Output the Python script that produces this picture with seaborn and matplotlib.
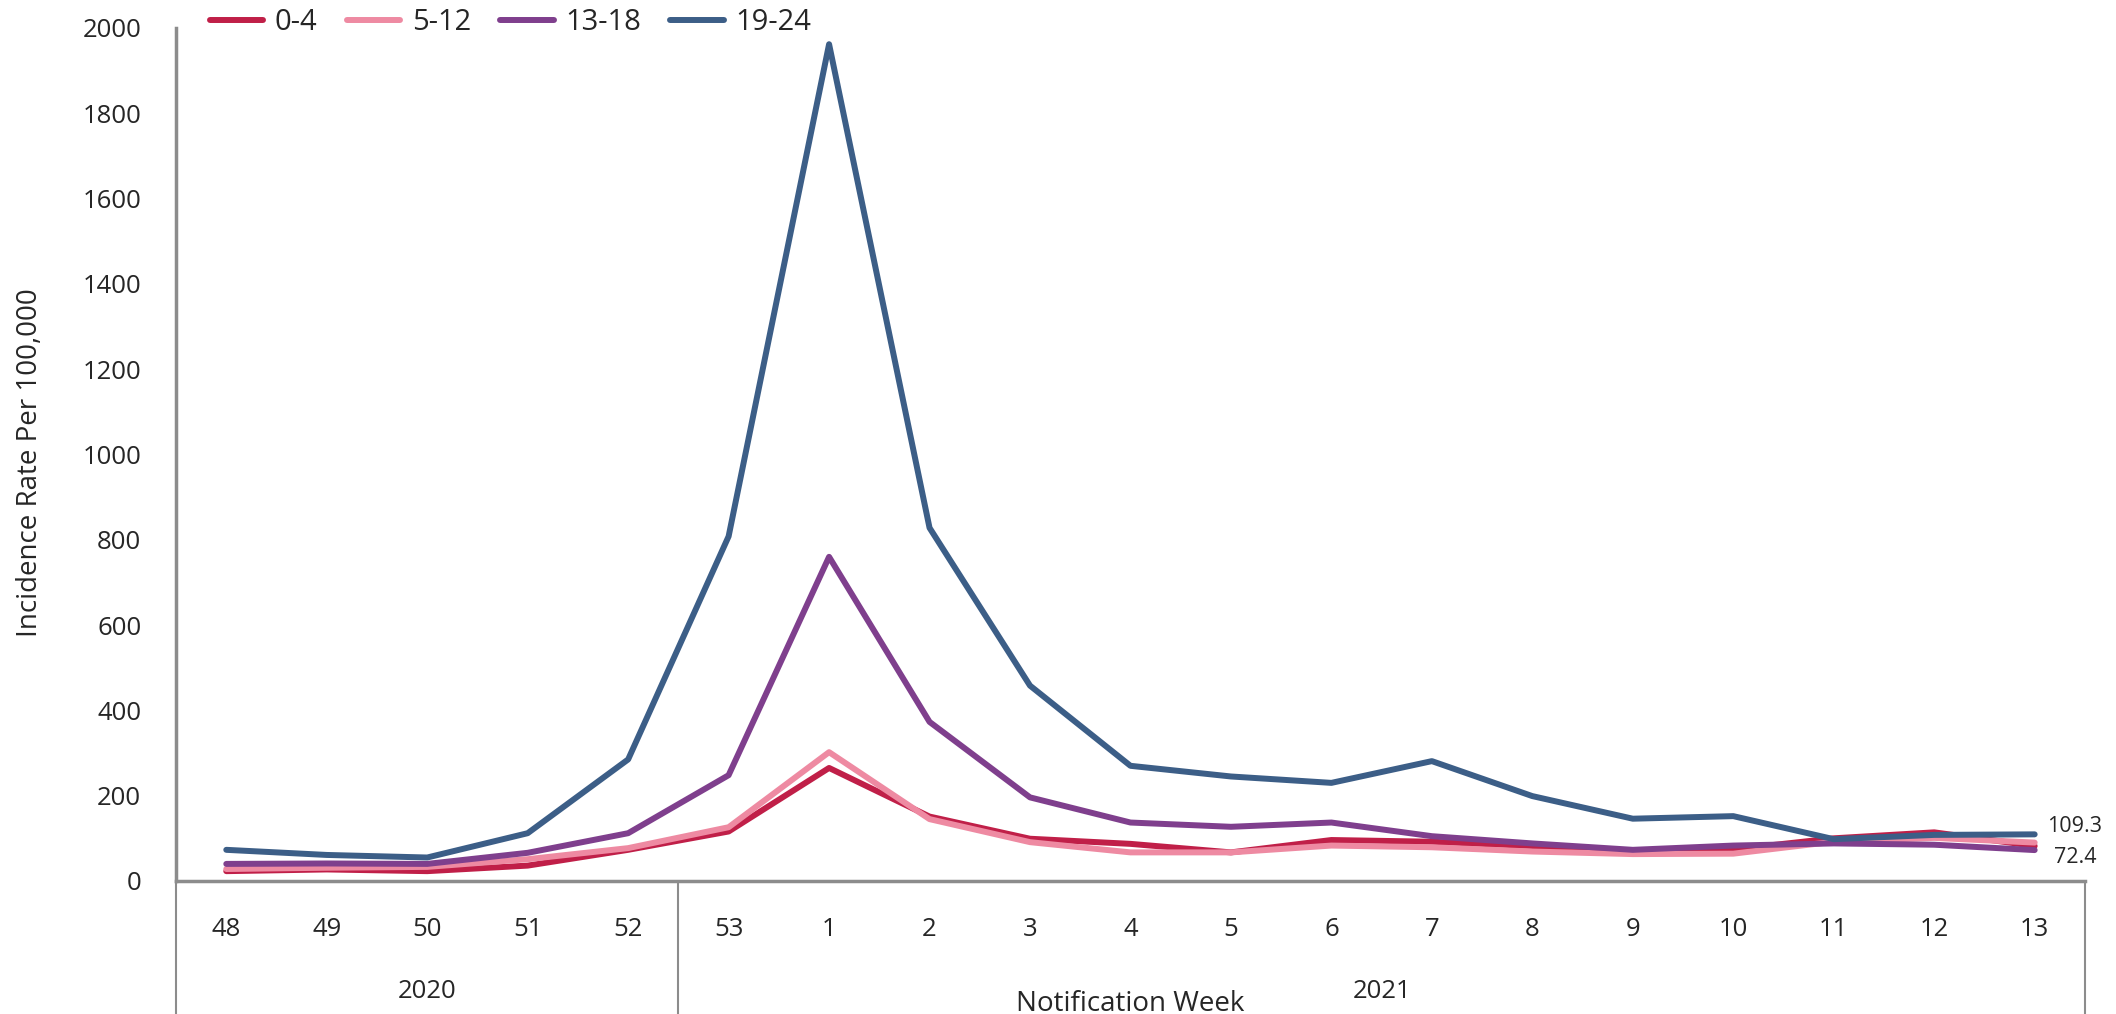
import numpy as np
import pandas as pd
import matplotlib
matplotlib.use("Agg")
import matplotlib.pyplot as plt
import matplotlib.transforms as mtransforms
import seaborn as sns

weeks = ['48', '49', '50', '51', '52', '53', '1', '2', '3', '4', '5', '6', '7', '8', '9', '10', '11', '12', '13']
years = ['2020', '2021']
year_sizes = [5, 14]

age_0_4 = [23, 27, 23, 36, 73, 116, 265, 151, 99, 87, 67, 96, 92, 82, 69, 74, 100, 114, 82]
age_5_12 = [28, 31, 33, 51, 77, 126, 302, 145, 91, 67, 67, 83, 79, 69, 63, 64, 92, 101, 90]
age_13_18 = [40, 41, 40, 66, 112, 248, 760, 373, 196, 137, 127, 137, 105, 88, 73, 83, 88, 85, 72.4]
age_19_24 = [73, 61, 55, 112, 285, 808, 1962, 828, 458, 270, 245, 230, 281, 199, 146, 152, 98, 108, 109.3]

groups = ['0-4', '5-12', '13-18', '19-24']
colors = ['#C01F48', '#EE8AA2', '#7F3F8D', '#3C5E87']

df = pd.DataFrame({
    'pos': np.tile(np.arange(len(weeks)), 4),
    'rate': age_0_4 + age_5_12 + age_13_18 + age_19_24,
    'group': np.repeat(groups, len(weeks)),
})

sns.set_style('white')
plt.rcParams['font.family'] = ['Open Sans', 'DejaVu Sans']
grey = '#8C8C8C'
tick_fs = 18.5

fig = plt.figure(figsize=(21.16, 10.14), dpi=100)
ax = fig.add_axes([0.0832, 0.1312, 0.9021, 0.8412])

sns.lineplot(data=df, x='pos', y='rate', hue='group', palette=colors,
             hue_order=groups, linewidth=4.3, ax=ax, legend=False)

ax.set_xlim(-0.5, len(weeks) - 0.5)
ax.set_ylim(0, 2000)
ax.set_yticks(np.arange(0, 2001, 200))
ax.set_xticks(np.arange(len(weeks)))
ax.set_xticklabels(weeks)
ax.tick_params(axis='y', length=9, width=2, color=grey, pad=16, labelsize=tick_fs)
ax.tick_params(axis='x', length=0, pad=26, labelsize=tick_fs)

for s in ['top', 'right']:
    ax.spines[s].set_visible(False)
for s in ['left', 'bottom']:
    ax.spines[s].set_color(grey)
    ax.spines[s].set_linewidth(2.5)

# year group separators and labels below the axis
trans = mtransforms.blended_transform_factory(ax.transData, ax.transAxes)
edges = np.concatenate([[0], np.cumsum(year_sizes)]) - 0.5
for e in edges:
    ax.plot([e, e], [0, -0.3], transform=trans, color=grey, lw=1.5, clip_on=False)
for i, yr in enumerate(years):
    ax.text((edges[i] + edges[i + 1]) / 2, -0.13, yr, transform=trans,
            ha='center', va='center', fontsize=tick_fs)

ax.set_ylabel('Incidence Rate Per 100,000', fontsize=20)
ax.yaxis.set_label_coords(-0.069, 0.49)
ax.set_xlabel('Notification Week', fontsize=20)
ax.xaxis.set_label_coords(0.5, -0.128)

# end labels
last = len(weeks) - 1
ax.annotate(f'{age_19_24[-1]}', (last, age_19_24[-1]), xytext=(9, 6),
            textcoords='offset points', ha='left', va='center', fontsize=15.5)
ax.annotate(f'{age_13_18[-1]}', (last, age_13_18[-1]), xytext=(14, -5),
            textcoords='offset points', ha='left', va='center', fontsize=15.5)

handles = [plt.Line2D([], [], color=c, lw=4.3, solid_capstyle='round') for c in colors]
fig.legend(handles, groups, loc='center left', bbox_to_anchor=(0.0992, 0.978),
           ncol=4, frameon=False, fontsize=21, handlelength=1.83,
           handletextpad=0.4, columnspacing=1.0, borderaxespad=0, borderpad=0)

fig.savefig('out.png', dpi=100)
